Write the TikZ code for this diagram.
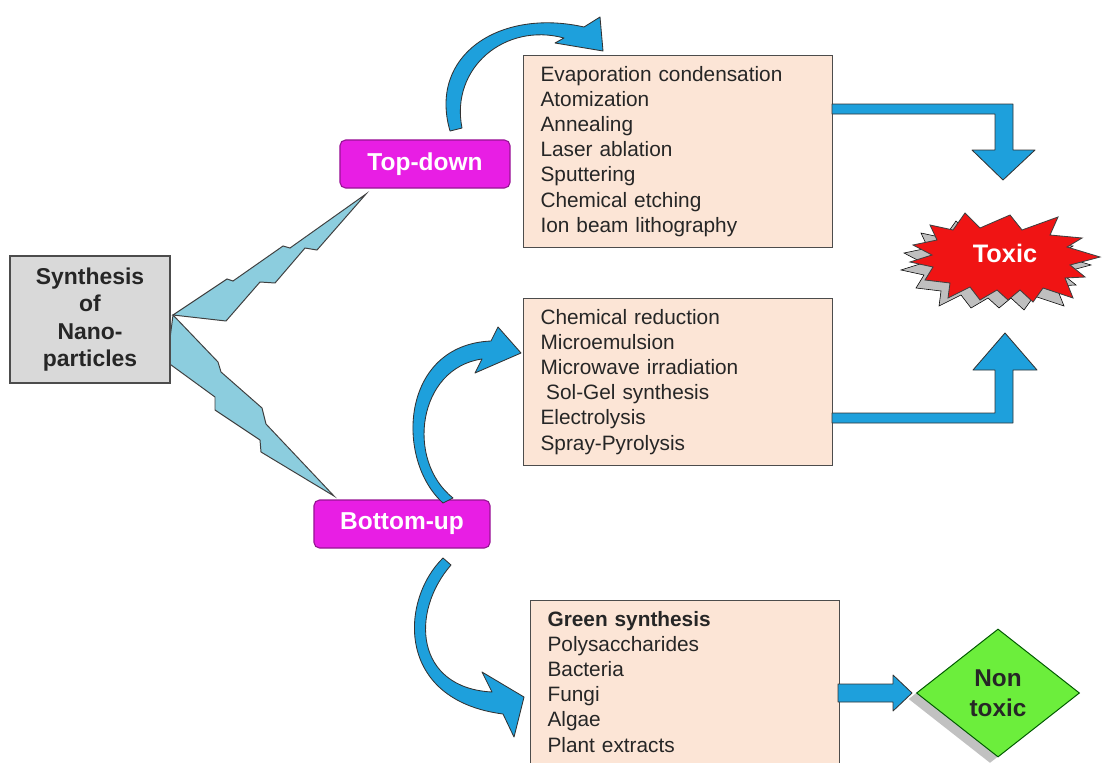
\documentclass[tikz,border=0pt]{standalone}
\usepackage{fontspec}
\setmainfont{Liberation Sans}
\usepackage{tikz}
\usetikzlibrary{
  shapes.geometric,
  shadows
}
\definecolor{sourcegray}{RGB}{217,217,217}
\definecolor{branchmagenta}{RGB}{232,30,228}
\definecolor{methodpeach}{RGB}{252,229,214}
\definecolor{flowblue}{RGB}{30,160,220}
\definecolor{boltblue}{RGB}{140,205,222}
\definecolor{toxicred}{RGB}{240,20,20}
\definecolor{safegreen}{RGB}{108,238,60}
\tikzset{
  source box/.style={
    draw=black!70,
    fill=sourcegray,
    line width=0.8pt,
    minimum width=4cm,
    minimum height=3.175cm,
    align=center,
    text=black!85,
    font=\fontsize{16.3}{19.5}\selectfont\bfseries
  },
  branch box/.style={
    draw=branchmagenta!65!black,
    fill=branchmagenta,
    rounded corners=4pt,
    line width=0.8pt,
    text=white,
    minimum height=1.2cm,
    font=\fontsize{17.4}{20}\selectfont\bfseries
  },
  method box/.style={
    draw=black!70,
    fill=methodpeach,
    line width=0.8pt,
    anchor=north west,
    text width=6.875cm,
    align=left,
    inner xsep=0.425cm,
    inner ysep=0.2cm,
    text=black!85,
    font=\fontsize{14.8}{17.9}\selectfont
  },
  bolt/.style={
    draw=black!75,
    fill=boltblue,
    line width=0.7pt,
    line join=miter
  },
  flow arrow/.style={
    draw=black!80,
    fill=flowblue,
    line width=0.6pt,
    line join=round
  },
  burst/.style={
    draw=black!75,
    fill=toxicred,
    line width=0.6pt
  },
  burst shadow/.style={
    fill=black!25
  },
  result diamond/.style={
    diamond,
    draw=green!35!black,
    fill=safegreen,
    line width=0.7pt,
    minimum width=4.075cm,
    minimum height=3.2cm,
    inner sep=0pt,
    align=center,
    text=black!85,
    font=\fontsize{17.3}{21}\selectfont\bfseries,
    drop shadow={shadow xshift=-0.2cm, shadow yshift=-0.15cm,
      fill=black!30, opacity=0.8}
  }
}

\begin{document}
\begin{tikzpicture}[x=0.025cm, y=-0.025cm]
  \useasboundingbox (0,0) rectangle (1102,762);
  \clip (0,0) rectangle (1102,762);

  % ---------- lightning connectors ----------
  \draw[bolt]
    (173,315) -- (227,279) -- (233,281) -- (283,246) -- (290,248)
    -- (366,194) -- (317,250) -- (305,248) -- (275,283) -- (260,282)
    -- (226,321) -- cycle;
  \draw[bolt]
    (173,315) -- (218,362) -- (221,372) -- (262,408) -- (266,424)
    -- (334,496) -- (261,452) -- (260,440) -- (215,410) -- (215,397)
    -- (167,362) -- cycle;

  % ---------- source and branches ----------
  \node[source box] (synth) at (90,319.5)
    {Synthesis\\of\\Nano-\\particles};
  \node[branch box, minimum width=4.25cm] (topdown) at (425,164) {Top-down};
  \node[branch box, minimum width=4.4cm] (bottomup) at (402,524) {Bottom-up};

  % ---------- method lists ----------
  \node[method box] (physical) at (523,55)
    {\strut Evaporation condensation\\
     Atomization\\
     Annealing\\
     Laser ablation\\
     Sputtering\\
     Chemical etching\\
     Ion beam lithography\strut};
  \node[method box] (chemical) at (523,298)
    {\strut Chemical reduction\\
     Microemulsion\\
     Microwave irradiation\\
     \hspace*{4pt}Sol-Gel synthesis\\
     Electrolysis\\
     Spray-Pyrolysis\strut};
  \node[method box] (biological) at (530,600)
    {\strut\textbf{Green synthesis}\\
     Polysaccharides\\
     Bacteria\\
     Fungi\\
     Algae\\
     Plant extracts\strut};

  % ---------- curved arrows ----------
  \draw[flow arrow]
    (450,131) .. controls (428,55) and (500,8) .. (584,27)
    -- (600,17) -- (603,51) -- (555,43) -- (564,38)
    .. controls (505,22) and (450,68) .. (462,128) -- cycle;
  \draw[flow arrow]
    (443,503) .. controls (395,460) and (400,345) .. (491,341)
    -- (498,327) -- (521,353) -- (475,373) -- (482,359)
    .. controls (418,368) and (405,460) .. (453,498) -- cycle;
  \draw[flow arrow]
    (443,558) .. controls (400,600) and (395,700) .. (503,714)
    -- (514,737) -- (524,697) -- (482,672) -- (492,692)
    .. controls (415,688) and (410,612) .. (451,565) -- cycle;

  % ---------- toxic outcome ----------
  \foreach \dx/\dy/\look in {-9/8/burst shadow, 0/0/burst} {
    \draw[\look, shift={(\dx,\dy)}]
      (913,245) -- (937,240) -- (930,225) -- (953,230) -- (965,213)
      -- (980,228) -- (1010,215) -- (1022,230) -- (1058,217)
      -- (1050,235) -- (1082,238) -- (1067,247) -- (1100,257)
      -- (1070,265) -- (1085,277) -- (1065,278) -- (1073,298)
      -- (1043,288) -- (1033,302) -- (1020,290) -- (1008,300)
      -- (997,290) -- (980,300) -- (970,287) -- (948,298)
      -- (950,283) -- (925,280) -- (933,267) -- (910,262)
      -- (932,255) -- cycle;
  }
  \node[text=white, font=\fontsize{18}{20}\selectfont\bfseries]
    (toxic) at (1005,253) {Toxic};

  \draw[flow arrow]
    (832,104) -- (1013,104) -- (1013,150) -- (1035,150) -- (1003,180)
    -- (972,150) -- (995,150) -- (995,114) -- (832,114) -- cycle;
  \draw[flow arrow]
    (832,423) -- (1013,423) -- (1013,370) -- (1037,370) -- (1005,333)
    -- (973,370) -- (995,370) -- (995,413) -- (832,413) -- cycle;

  % ---------- non toxic outcome ----------
  \node[result diamond] (nontoxic) at (998,693) {Non\\toxic};
  \draw[flow arrow]
    (838,684) -- (893,684) -- (893,675) -- (912,693) -- (893,711)
    -- (893,702) -- (838,702) -- cycle;

\end{tikzpicture}
\end{document}
